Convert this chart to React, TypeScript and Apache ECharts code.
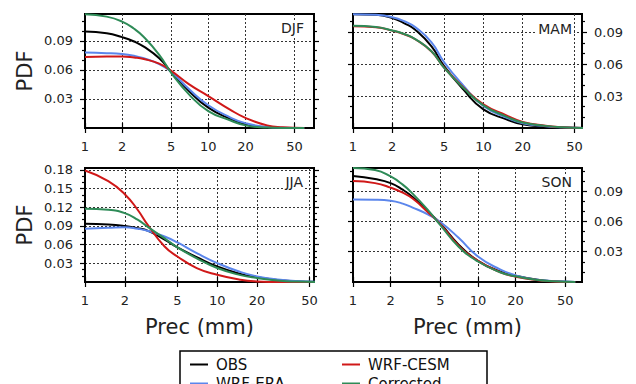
import React, { useEffect, useRef } from "react";
import * as echarts from "echarts";

// precipitation sample points (mm)
const prec = [1, 1.5, 2, 2.5, 3, 4, 5, 7, 10, 15, 20, 30, 40, 60];
const xTickValues = [1, 2, 5, 10, 20, 50];
const seasons = ["DJF", "MAM", "JJA", "SON"];
const seriesNames = ["OBS", "WRF-ERA", "WRF-CESM", "Corrected"];
const seriesColors = ["#000000", "#5b86ec", "#d01818", "#2e8b57"];

// DJF
const djfOBS = [0.0996, 0.0979, 0.0938, 0.0893, 0.084, 0.072, 0.058, 0.038, 0.021, 0.0095, 0.0038, 0.0007, 0.0001, 0];
const djfERA = [0.078, 0.0773, 0.0763, 0.0745, 0.072, 0.066, 0.058, 0.04, 0.0235, 0.011, 0.005, 0.001, 0.0003, 0];
const djfCESM = [0.0732, 0.0739, 0.0739, 0.0728, 0.0712, 0.0664, 0.059, 0.045, 0.033, 0.019, 0.0105, 0.0027, 0.0008, 0];
const djfCorr = [0.1174, 0.115, 0.1099, 0.1025, 0.094, 0.0756, 0.057, 0.0345, 0.0175, 0.008, 0.0027, 0.0005, 0, 0];
// MAM
const mamOBS = [0.1068, 0.1062, 0.1031, 0.098, 0.0922, 0.0766, 0.058, 0.0362, 0.0175, 0.0082, 0.0035, 0.0011, 0.0004, 0];
const mamERA = [0.1068, 0.1062, 0.104, 0.1, 0.0947, 0.0804, 0.0617, 0.04, 0.0207, 0.0098, 0.0045, 0.0017, 0.0006, 0];
const mamCESM = [0.0956, 0.0945, 0.0914, 0.0878, 0.0833, 0.0718, 0.0566, 0.0382, 0.0222, 0.0119, 0.0057, 0.0021, 0.0008, 0];
const mamCorr = [0.0959, 0.0947, 0.0916, 0.088, 0.0835, 0.072, 0.0564, 0.0377, 0.0213, 0.0107, 0.0051, 0.002, 0.0007, 0];
// JJA
const jjaOBS = [0.0935, 0.0925, 0.09, 0.0865, 0.082, 0.068, 0.0555, 0.04, 0.025, 0.013, 0.0075, 0.0027, 0.001, 0.0002];
const jjaERA = [0.0855, 0.087, 0.088, 0.0855, 0.082, 0.073, 0.0635, 0.0465, 0.0304, 0.016, 0.009, 0.0037, 0.0015, 0.0003];
const jjaCESM = [0.179, 0.162, 0.141, 0.116, 0.091, 0.057, 0.041, 0.0224, 0.0117, 0.0037, 0.001, 0, 0, 0];
const jjaCorr = [0.1175, 0.116, 0.1105, 0.1, 0.088, 0.07, 0.0555, 0.038, 0.0224, 0.011, 0.0064, 0.002, 0.0007, 0];
// SON
const sonOBS = [0.105, 0.102, 0.098, 0.0915, 0.0843, 0.0695, 0.058, 0.037, 0.021, 0.0105, 0.0062, 0.0022, 0.0008, 0];
const sonERA = [0.0817, 0.0815, 0.0805, 0.0777, 0.0738, 0.0668, 0.0595, 0.0438, 0.0253, 0.0125, 0.0066, 0.0023, 0.0009, 0];
const sonCESM = [0.1, 0.098, 0.0935, 0.0885, 0.0827, 0.069, 0.0574, 0.036, 0.021, 0.0098, 0.0052, 0.0018, 0.0006, 0];
const sonCorr = [0.113, 0.111, 0.1046, 0.0965, 0.0876, 0.071, 0.0564, 0.035, 0.0203, 0.0097, 0.0056, 0.002, 0.0008, 0];

const seasonSeries = [
  [djfOBS, djfERA, djfCESM, djfCorr],
  [mamOBS, mamERA, mamCESM, mamCorr],
  [jjaOBS, jjaERA, jjaCESM, jjaCorr],
  [sonOBS, sonERA, sonCESM, sonCorr],
];

const xMax = [72, 57, 54, 68];
const yMax = [0.1177, 0.107, 0.183, 0.113];
const yLabelValues = [
  [0.03, 0.06, 0.09],
  [0.03, 0.06, 0.09],
  [0.03, 0.06, 0.09, 0.12, 0.15, 0.18],
  [0.03, 0.06, 0.09],
];

const FONT = "DejaVu Sans";

export default function App() {
  const ref = useRef<HTMLDivElement>(null);
  useEffect(() => {
    if (!ref.current) return;
    const chart = echarts.init(ref.current, undefined, { renderer: "svg" });

    const grids = [
      { left: 85, top: 14, width: 229, height: 114 },
      { left: 353, top: 14, width: 229, height: 114 },
      { left: 85, top: 168, width: 229, height: 114 },
      { left: 353, top: 168, width: 229, height: 114 },
    ].map((g) => ({ ...g, show: true, borderColor: "#000", borderWidth: 2, containLabel: false }));

    const axisLine = { show: true, lineStyle: { color: "#000", width: 2 } };
    const tickLine = { color: "#000", width: 1.2 };
    const split = { show: true, lineStyle: { type: [2, 2], color: "#333", width: 1 } };

    const xAxis: any[] = [];
    const yAxis: any[] = [];
    const series: any[] = [];

    for (let i = 0; i < 4; i++) {
      const bottomRow = i >= 2;
      const leftCol = i % 2 === 0;
      xAxis.push({
        gridIndex: i,
        type: "log",
        logBase: 10,
        min: 1,
        max: xMax[i],
        position: "bottom",
        axisLine,
        axisTick: { show: true, inside: false, length: 5, customValues: xTickValues, lineStyle: tickLine },
        axisLabel: {
          show: true,
          customValues: xTickValues,
          formatter: (v: number) => String(Math.round(v)),
          fontSize: 13,
          color: "#222",
          margin: 12,
          fontFamily: FONT,
        },
        splitLine: split,
        name: bottomRow ? "Prec (mm)" : "",
        nameLocation: "middle",
        nameGap: 34,
        nameTextStyle: { fontSize: 21, color: "#222", fontFamily: FONT },
      });
      xAxis.push({
        gridIndex: i,
        type: "log",
        logBase: 10,
        min: 1,
        max: xMax[i],
        position: "top",
        axisLine,
        axisTick: { show: true, inside: false, length: 5, customValues: xTickValues, lineStyle: tickLine },
        axisLabel: { show: false },
        splitLine: { show: false },
      });
      const labelAxis = {
        gridIndex: i,
        type: "value",
        min: 0,
        max: yMax[i],
        interval: 0.03,
        position: leftCol ? "left" : "right",
        axisLine,
        axisTick: { show: true, inside: false, length: 5, customValues: yLabelValues[i], lineStyle: tickLine },
        minorTick: { show: true, splitNumber: 3, length: 3, lineStyle: tickLine },
        axisLabel: {
          show: true,
          customValues: yLabelValues[i],
          formatter: (v: number) => v.toFixed(2),
          fontSize: 13,
          color: "#222",
          margin: 12,
          fontFamily: FONT,
        },
        splitLine: split,
        name: leftCol ? "PDF" : "",
        nameLocation: "middle",
        nameGap: 50,
        nameTextStyle: { fontSize: 21, color: "#222", fontFamily: FONT },
      };
      const otherAxis = {
        gridIndex: i,
        type: "value",
        min: 0,
        max: yMax[i],
        interval: 0.03,
        position: leftCol ? "right" : "left",
        axisLine,
        axisTick: { show: true, inside: false, length: 5, customValues: yLabelValues[i], lineStyle: tickLine },
        minorTick: { show: true, splitNumber: 3, length: 3, lineStyle: tickLine },
        axisLabel: { show: false },
        splitLine: { show: false },
      };
      yAxis.push(labelAxis, otherAxis);

      seasonSeries[i].forEach((vals, k) => {
        series.push({
          name: seriesNames[k],
          type: "line",
          xAxisIndex: 2 * i,
          yAxisIndex: 2 * i,
          data: prec.map((p, j) => [p, vals[j]]),
          smooth: 0.5,
          showSymbol: false,
          symbol: "none",
          lineStyle: { color: seriesColors[k], width: 2 },
          itemStyle: { color: seriesColors[k] },
          z: 3 + k,
        });
      });
    }

    const labelPos = [
      { x: 306, y: 28 },
      { x: 574, y: 29 },
      { x: 305, y: 182 },
      { x: 574, y: 182 },
    ];

    const graphic: any[] = seasons.map((s, i) => ({
      type: "text",
      x: labelPos[i].x,
      y: labelPos[i].y,
      z: 10,
      style: {
        text: s,
        align: "right",
        verticalAlign: "middle",
        fill: "#222",
        font: `14px "${FONT}"`,
        backgroundColor: "#fff",
        padding: [1, 2, 1, 2],
      },
    }));
    graphic.push({
      type: "rect",
      shape: { x: 180, y: 351, width: 307, height: 60 },
      style: { fill: "none", stroke: "#000", lineWidth: 1.5 },
      z: 10,
    });

    const legendBase = {
      orient: "horizontal",
      padding: 0,
      itemWidth: 18,
      itemHeight: 2,
      icon: "rect",
      textStyle: { fontSize: 15, color: "#111", fontFamily: FONT, padding: [0, 0, 0, 3] },
      selectedMode: false,
    };
    const legendSlots = [
      { name: "OBS", left: 190, top: 357 },
      { name: "WRF-CESM", left: 342, top: 357 },
      { name: "WRF-ERA", left: 190, top: 376 },
      { name: "Corrected", left: 342, top: 376 },
    ];

    chart.setOption({
      animation: false,
      backgroundColor: "#fff",
      textStyle: { fontFamily: FONT },
      grid: grids,
      xAxis,
      yAxis,
      series,
      legend: legendSlots.map((s) => ({ ...legendBase, left: s.left, top: s.top, data: [s.name] })),
      graphic,
    });

    return () => chart.dispose();
  }, []);

  return (
    <div
      ref={ref}
      style={{ position: "fixed", left: 0, top: 0, width: 636, height: 384 }}
    />
  );
}
